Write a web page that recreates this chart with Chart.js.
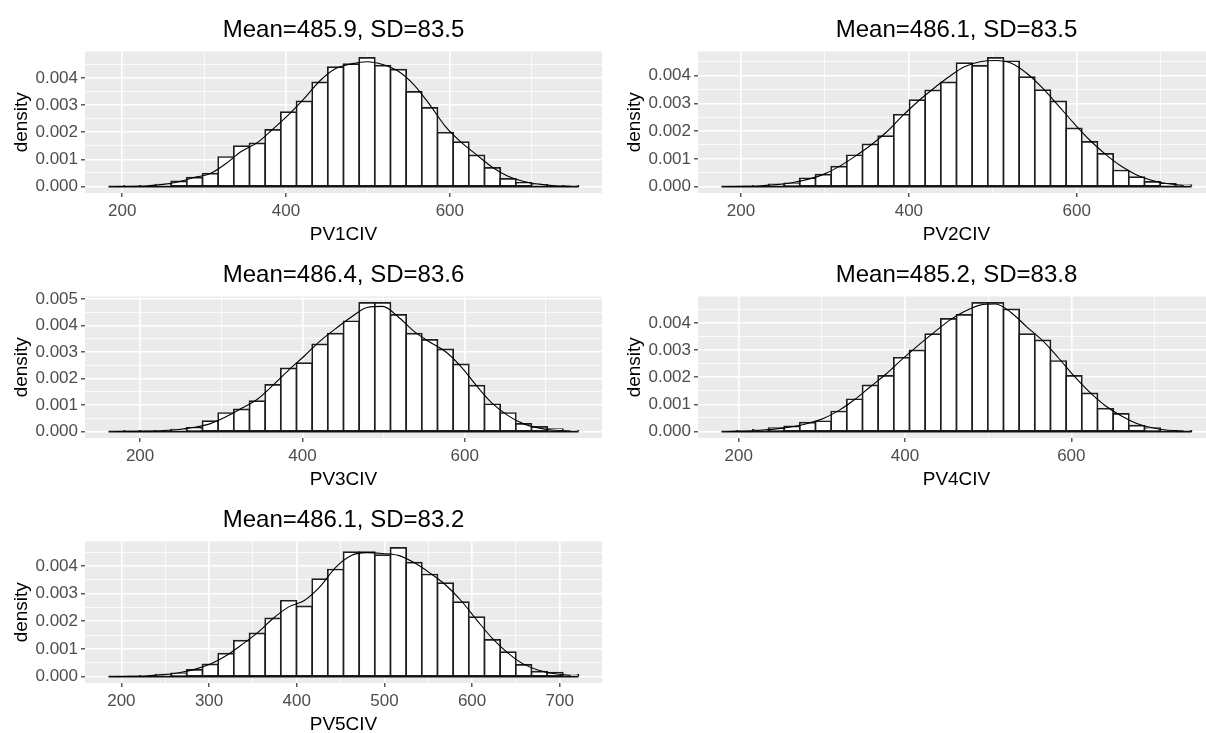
<!DOCTYPE html>
<html><head><meta charset="utf-8">
<script src="https://cdn.jsdelivr.net/npm/chart.js@4.4.1/dist/chart.umd.min.js"></script>
<style>
html,body{margin:0;padding:0;background:#fff;overflow:hidden;width:1206px;height:733px;}
.panel{position:absolute;width:613px;height:245px;}
</style></head><body>
<div class="panel" style="left:0;top:0"><canvas id="c0" width="613" height="245"></canvas></div>
<div class="panel" style="left:613px;top:0"><canvas id="c1" width="613" height="245"></canvas></div>
<div class="panel" style="left:0;top:245px"><canvas id="c2" width="613" height="245"></canvas></div>
<div class="panel" style="left:613px;top:245px"><canvas id="c3" width="613" height="245"></canvas></div>
<div class="panel" style="left:0;top:490px"><canvas id="c4" width="613" height="245"></canvas></div>
<script>
// ---- data ----
const titles = ['Mean=485.9, SD=83.5','Mean=486.1, SD=83.5','Mean=486.4, SD=83.6','Mean=485.2, SD=83.8','Mean=486.1, SD=83.2'];
const xTitles = ['PV1CIV','PV2CIV','PV3CIV','PV4CIV','PV5CIV'];
const binStart = [183.3, 176.7, 161.1, 179.3, 185.3];
const binWidth = [19.125, 18.67, 19.3, 18.84, 17.87];
const xTickStep = [100, 100, 100, 100, 50];
const xMajorStep = [200, 200, 200, 200, 100];

const hist1 = [0,0.00002,0.00003,0.00007,0.00019,0.00033,0.00048,0.00109,0.00149,0.00159,0.00209,0.00274,0.00314,0.00384,0.0044,0.00451,0.00474,0.00446,0.00431,0.00349,0.0029,0.00199,0.00164,0.00115,0.00069,0.00028,0.00014,0.00006,0.00002,0.00001];
const dens1 = [0,0.00001,0.00003,0.00008,0.00018,0.00034,0.00048,0.00085,0.0013,0.00162,0.00212,0.00265,0.00325,0.0039,0.00435,0.00452,0.0046,0.0045,0.00425,0.00375,0.00302,0.00222,0.00164,0.00117,0.00071,0.00038,0.00019,0.00009,0.00003,0.00001];

const hist2 = [0,0,0.00002,0.00008,0.00012,0.0003,0.00043,0.00072,0.00113,0.00152,0.00182,0.00259,0.00312,0.00347,0.00376,0.00445,0.00435,0.00464,0.00452,0.00395,0.00348,0.00307,0.0021,0.00161,0.00118,0.00058,0.00034,0.00017,0.0001,0.00005];
const dens2 = [0,0.00001,0.00003,0.00007,0.00014,0.00026,0.00044,0.00072,0.00108,0.00148,0.00195,0.00252,0.00305,0.00352,0.00395,0.00432,0.0045,0.00455,0.00445,0.00408,0.00355,0.00292,0.00228,0.00168,0.00117,0.00074,0.00042,0.00022,0.0001,0.00004];

const hist3 = [0,0.00001,0.00001,0.00002,0.00007,0.00014,0.00039,0.0007,0.00084,0.00115,0.00176,0.00238,0.00258,0.00329,0.00369,0.00416,0.00485,0.00485,0.0044,0.00369,0.00346,0.0031,0.00253,0.00173,0.00103,0.0007,0.00029,0.00018,0.00009,0.00004];
const dens3 = [0,0.00001,0.00002,0.00004,0.00008,0.00016,0.0003,0.00056,0.00088,0.00122,0.00175,0.00232,0.00285,0.00341,0.00388,0.00432,0.00468,0.00472,0.00432,0.00378,0.00338,0.00302,0.00245,0.00172,0.00106,0.0006,0.00029,0.00013,0.00005,0.00002];

const hist4 = [0,0.00001,0.00006,0.00013,0.00019,0.00033,0.00038,0.00074,0.00119,0.0017,0.00205,0.00272,0.00299,0.00359,0.00415,0.0043,0.00474,0.00474,0.0045,0.00359,0.00336,0.0026,0.00205,0.00141,0.00084,0.00065,0.00022,0.00013,0.00002,0.00001];
const dens4 = [0,0.00002,0.00005,0.0001,0.00018,0.0003,0.00048,0.00078,0.00118,0.00165,0.00212,0.00265,0.00315,0.00362,0.00408,0.00442,0.00466,0.0047,0.00438,0.00385,0.00335,0.00272,0.00205,0.00145,0.00095,0.00058,0.0003,0.00014,0.00005,0.00002];

const hist5 = [0,0,0.00003,0.00007,0.00012,0.00024,0.00044,0.00083,0.0013,0.00156,0.0021,0.00274,0.00254,0.00352,0.00387,0.0045,0.0045,0.00439,0.00465,0.00412,0.00369,0.00338,0.00269,0.00215,0.00133,0.00088,0.00042,0.00018,0.00014,0.00006];
const dens5 = [0,0.00001,0.00003,0.00007,0.00014,0.00026,0.00045,0.00075,0.00115,0.00158,0.0021,0.00252,0.00275,0.00325,0.00395,0.00438,0.00448,0.00445,0.00438,0.00412,0.00375,0.00332,0.00275,0.00205,0.00138,0.00085,0.00045,0.00022,0.0001,0.00004];

const hists = [hist1, hist2, hist3, hist4, hist5];
const denss = [dens1, dens2, dens3, dens4, dens5];

// ---- drawing ----
const FONT = '"Liberation Sans", Arial, sans-serif';
const panelBg = {
  id: 'panelBg',
  beforeDraw(chart) {
    const {ctx, chartArea: a} = chart;
    ctx.save();
    ctx.fillStyle = '#EBEBEB';
    ctx.fillRect(a.left, a.top, a.right - a.left, a.bottom - a.top);
    ctx.restore();
  }
};
const isYMajor = v => Math.abs(v * 1000 - Math.round(v * 1000)) < 1e-6;

function makePanel(i) {
  const h = hists[i], d = denss[i];
  const x0 = binStart[i], w = binWidth[i];
  const x1 = x0 + w * h.length;
  const span = x1 - x0;
  const ymax = Math.max(...h, ...d);
  const barData = h.map((v, k) => ({x: x0 + (k + 0.5) * w, y: v}));
  const lineData = d.map((v, k) => ({x: x0 + (k + 0.5) * w, y: v}));
  const baseData = [{x: x0, y: 0}, {x: x1, y: 0}];
  const major = xMajorStep[i];
  const isXMajor = v => Math.abs(v % major) < 1e-6;

  new Chart(document.getElementById('c' + i), {
    type: 'bar',
    data: {
      datasets: [
        {type: 'line', data: lineData, borderColor: '#000', borderWidth: 1.1, pointRadius: 0,
         cubicInterpolationMode: 'monotone', fill: false, order: 0},
        {type: 'line', data: baseData, borderColor: '#111', borderWidth: 1.7, pointRadius: 0,
         fill: false, order: 1},
        {type: 'bar', data: barData, backgroundColor: '#FFFFFF', borderColor: '#1e1e1e',
         borderWidth: 1.7, inflateAmount: 0.85, borderSkipped: false,
         barPercentage: 1, categoryPercentage: 1, order: 2}
      ]
    },
    options: {
      responsive: false,
      animation: false,
      events: [],
      layout: {padding: {left: 0, right: 11, top: 0, bottom: 0}},
      plugins: {
        legend: {display: false},
        tooltip: {enabled: false},
        title: {display: true, text: titles[i], fullSize: false, color: '#000',
                font: {family: FONT, size: 24, weight: 'normal', lineHeight: 1.2},
                padding: {top: 16, bottom: 6.7}}
      },
      scales: {
        x: {
          type: 'linear', offset: false,
          min: x0 - 0.05 * span, max: x1 + 0.05 * span,
          grid: {offset: false, color: '#FFFFFF', drawTicks: true, tickLength: 4,
                 lineWidth: c => (c.tick && isXMajor(c.tick.value)) ? 1.6 : 0.8,
                 tickColor: c => (c.tick && isXMajor(c.tick.value)) ? '#333333' : 'rgba(0,0,0,0)',
                 tickWidth: 1.2},
          border: {display: false},
          ticks: {stepSize: xTickStep[i], includeBounds: false, autoSkip: false, maxRotation: 0,
                  color: '#4D4D4D', padding: 4.5, font: {family: FONT, size: 17, lineHeight: 1.2},
                  callback: v => isXMajor(v) ? String(v) : ''},
          title: {display: true, text: xTitles[i], color: '#000',
                  font: {family: FONT, size: 19, lineHeight: 1}, padding: {top: 0, bottom: 0.5}},
          afterFit: s => { s.height = 52; }
        },
        y: {
          min: -0.05 * ymax, max: 1.05 * ymax,
          grid: {color: '#FFFFFF', drawTicks: true, tickLength: 4,
                 lineWidth: c => (c.tick && isYMajor(c.tick.value)) ? 1.6 : 0.8,
                 tickColor: c => (c.tick && isYMajor(c.tick.value)) ? '#333333' : 'rgba(0,0,0,0)',
                 tickWidth: 1.2},
          border: {display: false},
          ticks: {stepSize: 0.0005, includeBounds: false, autoSkip: false,
                  color: '#4D4D4D', padding: 3, font: {family: FONT, size: 17, lineHeight: 1.2},
                  callback: v => isYMajor(v) ? v.toFixed(3) : ''},
          title: {display: true, text: 'density', color: '#000',
                  font: {family: FONT, size: 19, lineHeight: 1}, padding: {top: 12, bottom: 0}},
          afterFit: s => { s.width = 85; }
        }
      }
    },
    plugins: [panelBg]
  });
}
for (let i = 0; i < 5; i++) makePanel(i);
</script>
</body></html>
